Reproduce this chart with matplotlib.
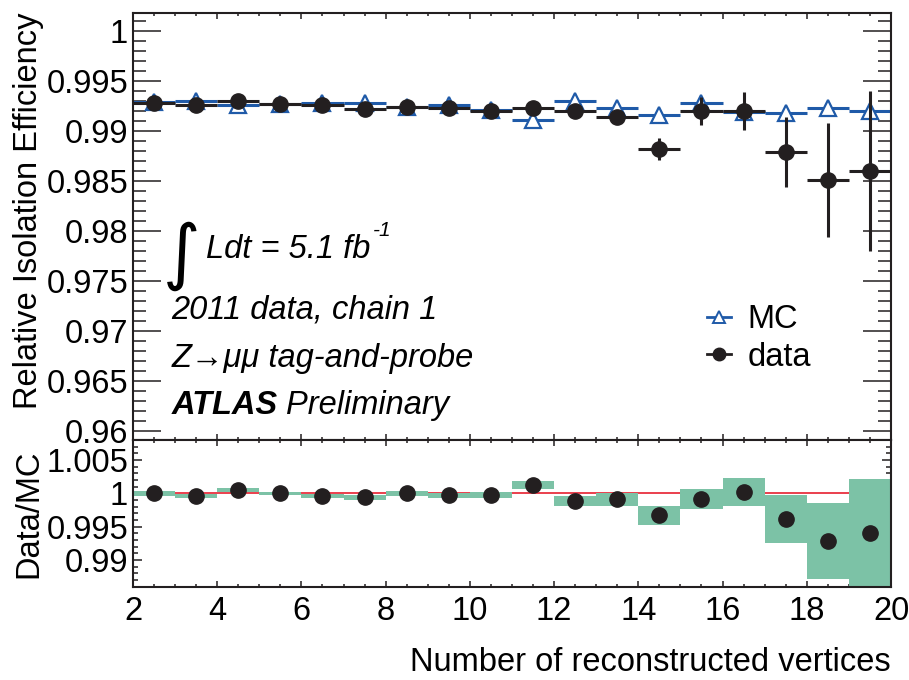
import numpy as np
import matplotlib.pyplot as plt
from matplotlib.ticker import MultipleLocator
from matplotlib.lines import Line2D

plt.rcParams['font.family'] = ['Liberation Sans', 'DejaVu Sans']

# bin centres: number of reconstructed vertices
nvtx = [2.5, 3.5, 4.5, 5.5, 6.5, 7.5, 8.5, 9.5, 10.5,
        11.5, 12.5, 13.5, 14.5, 15.5, 16.5, 17.5, 18.5, 19.5]

eff_mc = [0.9929, 0.9930, 0.9926, 0.9927, 0.9928, 0.9928, 0.9924, 0.9926, 0.9921,
          0.9911, 0.9930, 0.9923, 0.9916, 0.9928, 0.9919, 0.9918, 0.9923, 0.9920]
eff_data = [0.9928, 0.9926, 0.9930, 0.9927, 0.9926, 0.9922, 0.9924, 0.9923, 0.9920,
            0.9923, 0.9920, 0.9914, 0.9882, 0.9920, 0.9920, 0.9879, 0.9851, 0.9860]
err_data = [0.0003, 0.0003, 0.0003, 0.0003, 0.0003, 0.0003, 0.0003, 0.0003, 0.0004,
            0.0005, 0.0006, 0.0007, 0.0011, 0.0014, 0.0019, 0.0035, 0.0057, 0.0080]

ratio = [1.0000, 0.9996, 1.0005, 1.0000, 0.9996, 0.9994, 1.0000, 0.9997, 0.9998,
         1.0012, 0.9989, 0.9991, 0.9967, 0.9992, 1.0002, 0.9961, 0.9928, 0.9940]
ratio_err = [0.00038, 0.00033, 0.00028, 0.00025, 0.00033, 0.00033, 0.00038, 0.00038, 0.00043,
             0.0006, 0.00075, 0.0010, 0.0014, 0.0015, 0.0021, 0.0036, 0.0057, 0.0081]

top_ticks = ['0.96', '0.965', '0.97', '0.975', '0.98', '0.985', '0.99', '0.995', '1']
ratio_ticks = ['0.99', '0.995', '1', '1.005']
x_ticks = ['2', '4', '6', '8', '10', '12', '14', '16', '18', '20']

blue = '#1f5aa8'
black = '#231f20'
green = '#7cc2a6'
red = '#e8303f'
fs = 23.5

fig = plt.figure(figsize=(9.09, 6.8), dpi=100)
ax1 = fig.add_axes([0.1463, 0.3529, 0.8339, 0.628])
ax2 = fig.add_axes([0.1463, 0.1372, 0.8339, 0.2157])

# upper panel
ax1.errorbar(nvtx, eff_mc, xerr=0.5, yerr=0.0001, fmt='^', color=blue, mfc='white',
             mec=blue, ms=11, mew=1.6, elinewidth=2.2, capsize=0, zorder=2)
ax1.errorbar(nvtx, eff_data, xerr=0.5, yerr=err_data, fmt='o', color=black,
             ms=11, elinewidth=2.2, capsize=0, zorder=3)

ax1.set_xlim(2, 20)
ax1.set_ylim(0.9591, 1.0018)
ax1.set_yticks([float(t) for t in top_ticks])
ax1.set_yticklabels(top_ticks)
ax1.set_xticks([float(t) for t in x_ticks])
ax1.xaxis.set_minor_locator(MultipleLocator(0.5))
ax1.yaxis.set_minor_locator(MultipleLocator(0.001))
ax1.tick_params(which='both', direction='in', top=True, right=True, labelbottom=False,
                labelsize=fs, width=1.1, color=black, pad=3.5)
ax1.tick_params(axis='y', which='major', length=20)
ax1.tick_params(axis='y', which='minor', length=9.5)
ax1.tick_params(axis='x', which='major', length=4.3)
ax1.tick_params(axis='x', which='minor', length=2.2)
ax1.set_ylabel('Relative Isolation Efficiency', fontsize=fs, loc='top')
ax1.yaxis.set_label_coords(-0.117, 1.0)

handles = [Line2D([], [], color=blue, marker='^', mfc='white', mec=blue, ms=9, mew=1.4, lw=2),
           Line2D([], [], color=black, marker='o', ms=9, lw=2)]
ax1.legend(handles, ['MC', 'data'], loc='upper left', bbox_to_anchor=(0.757, 0.318),
           frameon=False, fontsize=fs, handlelength=0.75, handletextpad=0.5,
           labelspacing=0.2, borderpad=0, borderaxespad=0)

ax1.text(0.064, 0.430, '\u222b', transform=ax1.transAxes, fontsize=52,
         family='DejaVu Sans', ha='center', va='center')
ax1.text(0.096, 0.445, 'Ldt = 5.1 fb', transform=ax1.transAxes, fontsize=fs,
         style='italic', va='center')
ax1.text(0.316, 0.49, '-1', transform=ax1.transAxes, fontsize=15,
         style='italic', va='center')
ax1.text(0.051, 0.304, '2011 data, chain 1', transform=ax1.transAxes, fontsize=fs,
         style='italic', va='center')
ax1.text(0.051, 0.190, 'Z\u2192\u03bc\u03bc tag-and-probe', transform=ax1.transAxes,
         fontsize=fs, style='italic', va='center')
atlas = ax1.text(0.051, 0.080, 'ATLAS', transform=ax1.transAxes, fontsize=fs,
                 style='italic', weight='bold', va='center')
ax1.annotate('Preliminary', xy=(1, 0.5), xycoords=atlas, xytext=(6, 0),
             textcoords='offset points', fontsize=fs, style='italic', va='center')

# ratio panel
ax2.axhline(1.0, color=red, lw=1.3, zorder=1)
lo = [r - e for r, e in zip(ratio, ratio_err)]
hi = [2 * e for e in ratio_err]
ax2.bar(nvtx, hi, bottom=lo, width=1.0, color=green, lw=0, zorder=2)
ax2.plot(nvtx, ratio, 'o', color=black, ms=11, zorder=3)

ax2.set_xlim(2, 20)
ax2.set_ylim(0.986, 1.008)
ax2.set_yticks([float(t) for t in ratio_ticks])
ax2.set_yticklabels(ratio_ticks)
ax2.set_xticks([float(t) for t in x_ticks])
ax2.set_xticklabels(x_ticks)
ax2.xaxis.set_minor_locator(MultipleLocator(0.5))
ax2.yaxis.set_minor_locator(MultipleLocator(0.001))
ax2.tick_params(which='both', direction='in', top=True, right=True,
                labelsize=fs, width=1.1, color=black)
ax2.tick_params(axis='y', which='major', length=6.5, pad=3.5)
ax2.tick_params(axis='y', which='minor', length=3.6)
ax2.tick_params(axis='x', which='major', length=4, pad=7)
ax2.tick_params(axis='x', which='minor', length=2.2)
ax2.set_ylabel('Data/MC', fontsize=fs)
ax2.yaxis.set_label_coords(-0.117, 0.5)
ax2.set_xlabel('Number of reconstructed vertices', fontsize=fs, loc='right', labelpad=14)

for ax in (ax1, ax2):
    for s in ax.spines.values():
        s.set_linewidth(1.5)
        s.set_color(black)

fig.savefig('out.png', dpi=100)
